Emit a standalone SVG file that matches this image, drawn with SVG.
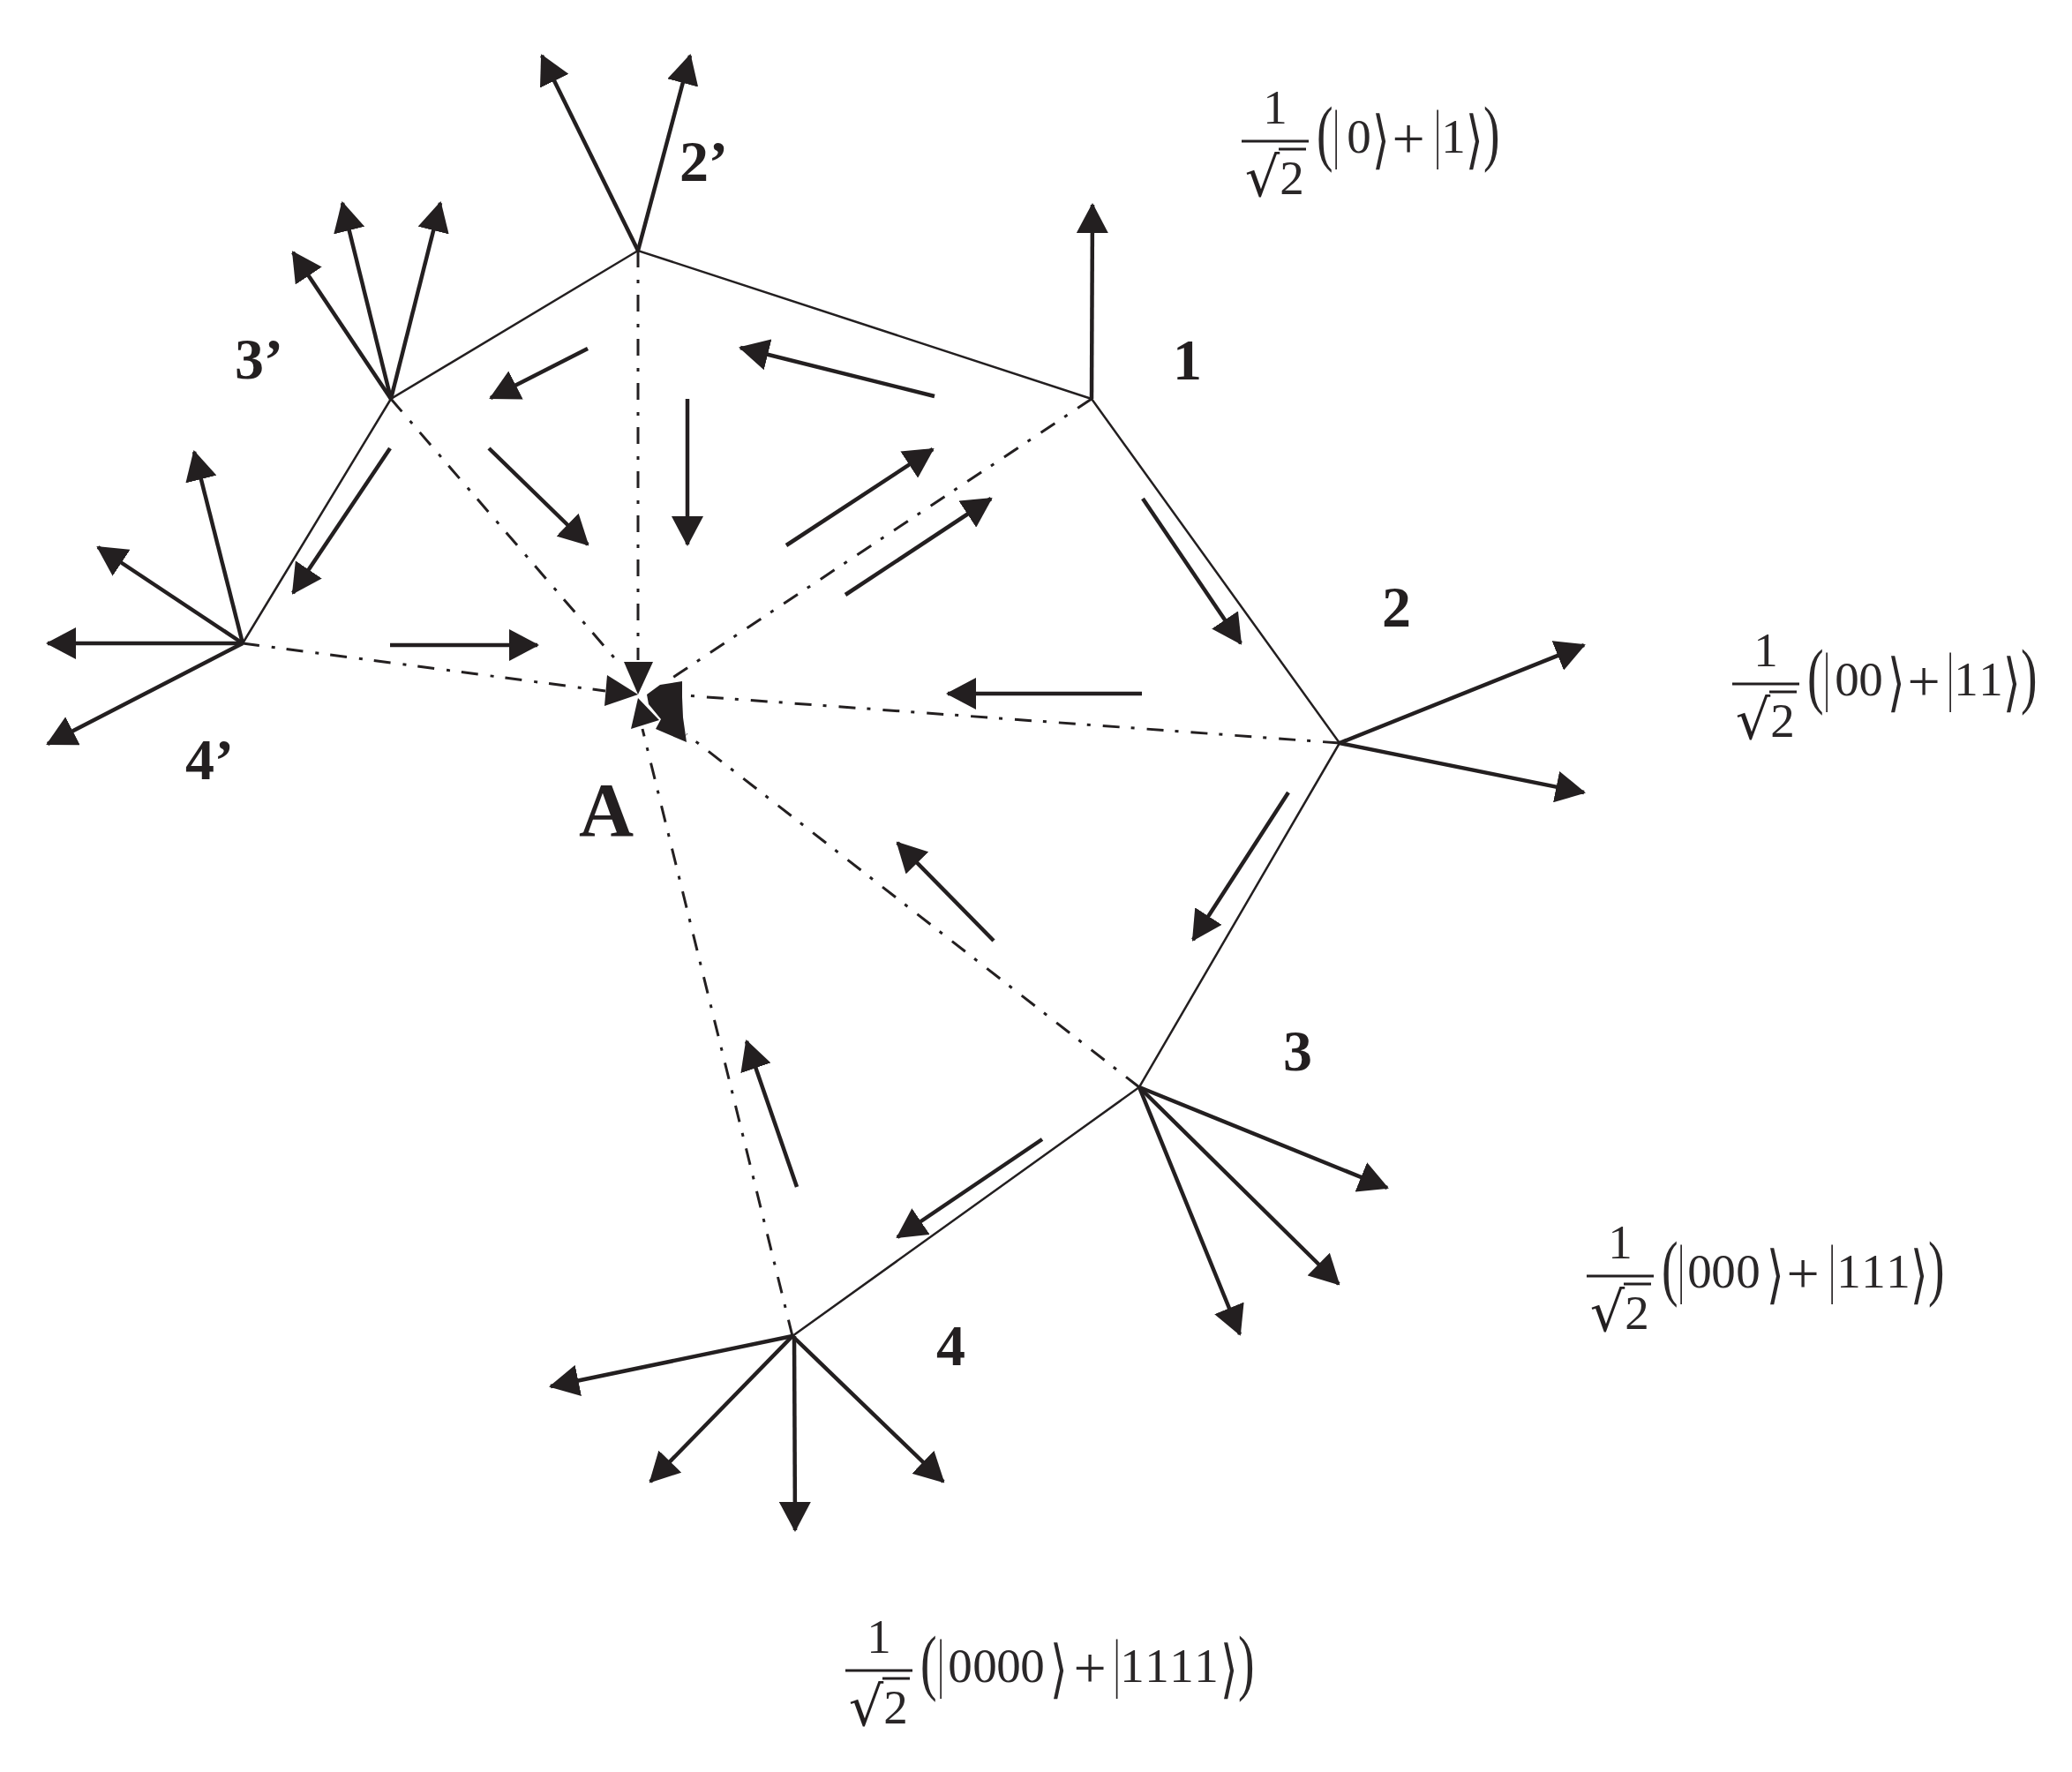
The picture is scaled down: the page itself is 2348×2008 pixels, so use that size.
<svg xmlns="http://www.w3.org/2000/svg" width="2348" height="2008" viewBox="0 0 2348 2008">
<defs>
<marker id="h" viewBox="0 0 34 36" refX="32" refY="18" markerWidth="34" markerHeight="36" markerUnits="userSpaceOnUse" orient="auto"><path d="M0 0L34 18L0 36Z" fill="#231f20"/></marker>
</defs>
<style>
.a{stroke:#231f20;stroke-width:4.5;fill:none;marker-end:url(#h)}
.e{stroke:#231f20;stroke-width:2.5;fill:none}
.d{stroke:#231f20;stroke-width:3;fill:none;stroke-dasharray:19 14 4 13}
.t{fill:#231f20}
.l{font-family:"Liberation Serif",serif;font-weight:bold;font-size:66px;fill:#231f20}
.f{font-family:"Liberation Serif",serif;font-size:55px;fill:#2a2728;text-anchor:middle}
.o{font-family:"Liberation Serif",serif;font-size:66px;fill:#2a2728;text-anchor:middle}
.p{font-family:"Liberation Serif",serif;font-size:82px;fill:#2a2728}
.b{font-family:"Liberation Serif",serif;font-size:75px;fill:#231f20;text-anchor:middle}
.g{font-family:"DejaVu Sans",sans-serif;font-size:72px;fill:#2a2728}
.r{font-family:"DejaVu Sans",sans-serif;font-size:62px;fill:#231f20}
.m{stroke:#231f20;stroke-width:3;fill:none}
</style>
<rect width="2348" height="2008" fill="#fff"/>
<g id="connectors">
<path class="e" d="M1237 452L723 284L443 452L275 729M1237 452L1518 842L1291 1232L898 1514"/>
<path class="d" d="M723 284L723 748"/>
<path class="d" d="M443 452L700 750"/>
<path class="d" d="M275 729L686 783"/>
<path class="d" d="M1237 452L762 768"/>
<path class="d" d="M1518 842L775 788"/>
<path class="d" d="M1291 1232L778 832"/>
<path class="d" d="M898 1514L728 826"/>
<polygon class="t" points="707,750 740,750 723,787"/>
<polygon class="t" points="688,765 685,800 723,787"/>
<polygon class="t" points="723,791 747,816 715,826"/>
<polygon class="t" points="733,787 748,776 773,772 773,790 774,813 778,841 743,826 749,815 735,798"/>
<path class="a" d="M1237 452L1238 232"/>
<path class="a" d="M723 284L614 63"/><path class="a" d="M723 284L782 63"/>
<path class="a" d="M443 452L332 286"/><path class="a" d="M443 452L388 230"/><path class="a" d="M443 452L499 230"/>
<path class="a" d="M275 729L220 512"/><path class="a" d="M275 729L111 620"/><path class="a" d="M275 729L54 729"/><path class="a" d="M275 729L54 843"/>
<path class="a" d="M1518 842L1795 731"/><path class="a" d="M1518 842L1795 898"/>
<path class="a" d="M1291 1232L1572 1346"/><path class="a" d="M1291 1232L1517 1455"/><path class="a" d="M1291 1232L1405 1512"/>
<path class="a" d="M898 1514L624 1571"/><path class="a" d="M898 1514L737 1679"/><path class="a" d="M900 1514L901 1734"/><path class="a" d="M898 1514L1069 1679"/>
<path class="a" d="M1059 449L839 394"/><path class="a" d="M666 395L556 451"/><path class="a" d="M779 452L779 617"/><path class="a" d="M554 508L666 617"/><path class="a" d="M442 508L332 672"/><path class="a" d="M891 618L1057 509"/><path class="a" d="M958 674L1123 565"/><path class="a" d="M1295 565L1406 729"/><path class="a" d="M442 731L609 731"/><path class="a" d="M1294 786L1074 786"/><path class="a" d="M1460 898L1352 1065"/><path class="a" d="M1126 1066L1017 955"/><path class="a" d="M1181 1291L1017 1402"/><path class="a" d="M903 1345L846 1180"/>
</g>
<g id="node-1"><text class="l" x="1329" y="430">1</text></g>
<g id="node-2"><text class="l" x="1566" y="710">2</text></g>
<g id="node-3"><text class="l" x="1454" y="1213">3</text></g>
<g id="node-4"><text class="l" x="1061" y="1547">4</text></g>
<g id="node-2p"><text class="l" x="770" y="205">2’</text></g>
<g id="node-3p"><text class="l" x="266" y="429">3’</text></g>
<g id="node-4p"><text class="l" x="210" y="883">4’</text></g>
<g id="node-A"><text class="l" style="font-size:86px" x="656" y="947">A</text></g>
<g id="state-1" transform="translate(1407 160)">
<path class="m" d="M0 0H76M42 9H73"/>
<text class="f" x="38" y="-20">1</text><text class="f" x="57" y="60">2</text>
<text class="r" x="3.8" y="62">√</text>
<text class="p" transform="translate(85 18) scale(.68 1)">(</text>
<text class="b" transform="translate(107 16) scale(.45 1)">|</text>
<text class="f" x="133" y="13">0</text>
<text class="g" transform="translate(148 23) scale(.7 1)">⟩</text>
<text class="o" x="189" y="19">+</text>
<text class="b" transform="translate(222 16) scale(.45 1)">|</text>
<text class="f" x="240" y="13">1</text>
<text class="g" transform="translate(254 23) scale(.7 1)">⟩</text>
<text class="p" transform="translate(274 18) scale(.68 1)">)</text>
</g>
<g id="state-2" transform="translate(1963 775)">
<path class="m" d="M0 0H76M42 9H73"/>
<text class="f" x="38" y="-20">1</text><text class="f" x="57" y="60">2</text>
<text class="r" x="3.8" y="62">√</text>
<text class="p" transform="translate(85 18) scale(.68 1)">(</text>
<text class="b" transform="translate(107 16) scale(.45 1)">|</text>
<text class="f" x="130" y="13">0</text><text class="f" x="157" y="13">0</text>
<text class="g" transform="translate(176 23) scale(.7 1)">⟩</text>
<text class="o" x="217" y="19">+</text>
<text class="b" transform="translate(247 16) scale(.45 1)">|</text>
<text class="f" x="265" y="13">1</text><text class="f" x="293" y="13">1</text>
<text class="g" transform="translate(307 23) scale(.7 1)">⟩</text>
<text class="p" transform="translate(327 18) scale(.68 1)">)</text>
</g>
<g id="state-3" transform="translate(1798 1446)">
<path class="m" d="M0 0H76M42 9H73"/>
<text class="f" x="38" y="-20">1</text><text class="f" x="57" y="60">2</text>
<text class="r" x="3.8" y="62">√</text>
<text class="p" transform="translate(85 18) scale(.68 1)">(</text>
<text class="b" transform="translate(107 16) scale(.45 1)">|</text>
<text class="f" x="128" y="13">0</text><text class="f" x="155" y="13">0</text><text class="f" x="183" y="13">0</text>
<text class="g" transform="translate(204 23) scale(.7 1)">⟩</text>
<text class="o" x="245" y="19">+</text>
<text class="b" transform="translate(278 16) scale(.45 1)">|</text>
<text class="f" x="297" y="13">1</text><text class="f" x="325" y="13">1</text><text class="f" x="353" y="13">1</text>
<text class="g" transform="translate(367 23) scale(.7 1)">⟩</text>
<text class="p" transform="translate(387 18) scale(.68 1)">)</text>
</g>
<g id="state-4" transform="translate(958 1893)">
<path class="m" d="M0 0H76M42 9H73"/>
<text class="f" x="38" y="-20">1</text><text class="f" x="57" y="60">2</text>
<text class="r" x="3.8" y="62">√</text>
<text class="p" transform="translate(85 18) scale(.68 1)">(</text>
<text class="b" transform="translate(108 16) scale(.45 1)">|</text>
<text class="f" x="130" y="13">0</text><text class="f" x="158" y="13">0</text><text class="f" x="185" y="13">0</text><text class="f" x="212" y="13">0</text>
<text class="g" transform="translate(232 23) scale(.7 1)">⟩</text>
<text class="o" x="277" y="19">+</text>
<text class="b" transform="translate(307.5 16) scale(.45 1)">|</text>
<text class="f" x="325" y="13">1</text><text class="f" x="353" y="13">1</text><text class="f" x="381" y="13">1</text><text class="f" x="409" y="13">1</text>
<text class="g" transform="translate(425 23) scale(.7 1)">⟩</text>
<text class="p" transform="translate(445 18) scale(.68 1)">)</text>
</g>
</svg>
